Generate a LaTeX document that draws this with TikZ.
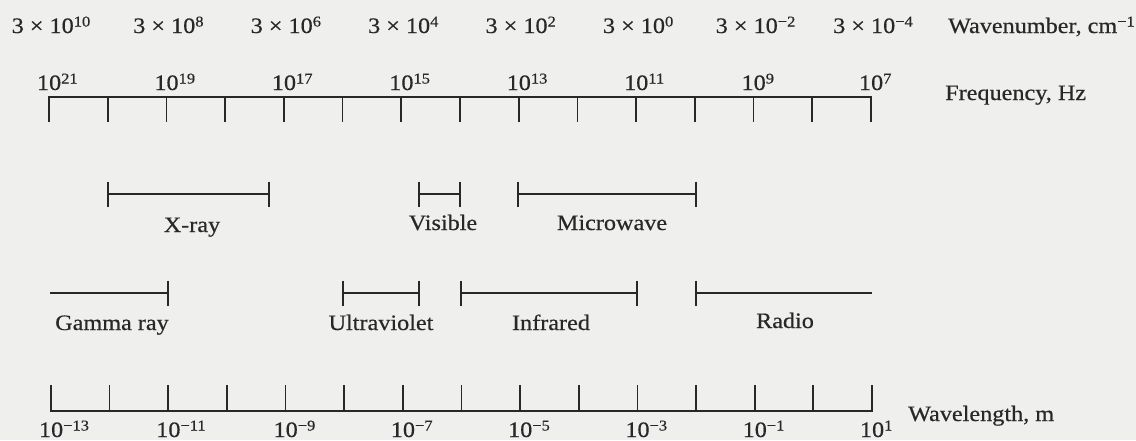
\documentclass[tikz,border=0pt]{standalone}
\usepackage{fontspec}
\setmainfont[FakeStretch=1.1,FakeBold=0.5]{Liberation Serif}
\definecolor{ink}{RGB}{40,40,40}
\definecolor{paper}{RGB}{239,239,237}
\newcommand\pw[1]{\raisebox{6.5pt}{\fontsize{15}{15}\selectfont #1}}
\begin{document}
\begin{tikzpicture}[x=1pt,y=-1pt,
  axisline/.style={draw=ink, line width=1.7pt},
  lbl/.style={inner sep=0pt, text=ink, font=\fontsize{22}{24}\selectfont},
  powlbl/.style={lbl, anchor=base west},
  ctrlbl/.style={lbl, anchor=base}]
\useasboundingbox (0,0) rectangle (1136,440);
\fill[paper] (0,0) rectangle (1136,440);

% ---------- top axis (frequency) ----------
\foreach \k in {0,...,14}{
  \coordinate (t\k) at ({49+58.714*\k},97);
}
\draw[axisline] (t0) ++(0,25) -- (t0) -- (t14) -- ++(0,25);
\foreach \k in {1,...,13}{
  \draw[axisline] (t\k) -- ++(0,25);
}
% frequency labels
\foreach \k/\e in {0/21,2/19,4/17,6/15,8/13,10/11,12/9,14/7}{
  \node[powlbl] (fq\k) at ({49+58.714*\k-12.2},90) {10\pw{\e}};
}
% wavenumber labels
\foreach \k/\e in {0/10,2/8,4/6,6/4,8/2,10/0,12/−2,14/−4}{
  \node[ctrlbl] (wn\k) at ({49+58.714*\k+2},33) {3 × 10\pw{\e}};
}
\node[lbl, anchor=base east] (wnname) at (1135,33) {Wavenumber, cm\pw{−1}};
\node[lbl, anchor=base west] (fqname) at (945,100) {Frequency, Hz};

% ---------- bottom axis (wavelength) ----------
\foreach \k in {0,...,14}{
  \coordinate (b\k) at ({51+58.64*\k},411);
}
\draw[axisline] (b0) ++(0,-26) -- (b0) -- (b14) -- ++(0,-26);
\foreach \k in {1,...,13}{
  \draw[axisline] (b\k) -- ++(0,-26);
}
\foreach \k/\e in {0/−13,2/−11,4/−9,6/−7,8/−5,10/−3,12/−1,14/1}{
  \node[powlbl] (wl\k) at ({51+58.64*\k-12.2},437) {10\pw{\e}};
}
\node[lbl, anchor=base west] (wlname) at (908,421) {Wavelength, m};

% ---------- bands, row 1 ----------
\coordinate (xa) at (108,194);  \coordinate (xb) at (269,194);
\coordinate (va) at (419,194);  \coordinate (vb) at (460,194);
\coordinate (ma) at (518,194);  \coordinate (mb) at (696,194);
\foreach \a/\b in {xa/xb,va/vb,ma/mb}{
  \draw[axisline] (\a) -- (\b);
  \draw[axisline] (\a) ++(0,-12.5) -- ++(0,25);
  \draw[axisline] (\b) ++(0,-12.5) -- ++(0,25);
}
\node[ctrlbl] (xray) at (192,232) {X-ray};
\node[ctrlbl] (vis) at (443,230) {Visible};
\node[ctrlbl] (micro) at (612,230) {Microwave};

% ---------- bands, row 2 ----------
\coordinate (ga) at (50,293);   \coordinate (gb) at (168,293);
\coordinate (ua) at (343,293);  \coordinate (ub) at (419,293);
\coordinate (ia) at (461,293);  \coordinate (ib) at (637,293);
\coordinate (ra) at (696,293);  \coordinate (rb) at (872,293);
\draw[axisline] (ga) -- (gb);
\draw[axisline] (gb) ++(0,-12.5) -- ++(0,25);
\foreach \a/\b in {ua/ub,ia/ib}{
  \draw[axisline] (\a) -- (\b);
  \draw[axisline] (\a) ++(0,-12.5) -- ++(0,25);
  \draw[axisline] (\b) ++(0,-12.5) -- ++(0,25);
}
\draw[axisline] (ra) -- (rb);
\draw[axisline] (ra) ++(0,-12.5) -- ++(0,25);
\node[ctrlbl] (gamma) at (112,330) {Gamma ray};
\node[ctrlbl] (uv) at (381,330) {Ultraviolet};
\node[ctrlbl] (ir) at (551,330) {Infrared};
\node[ctrlbl] (radio) at (785,328) {Radio};
\end{tikzpicture}
\end{document}
